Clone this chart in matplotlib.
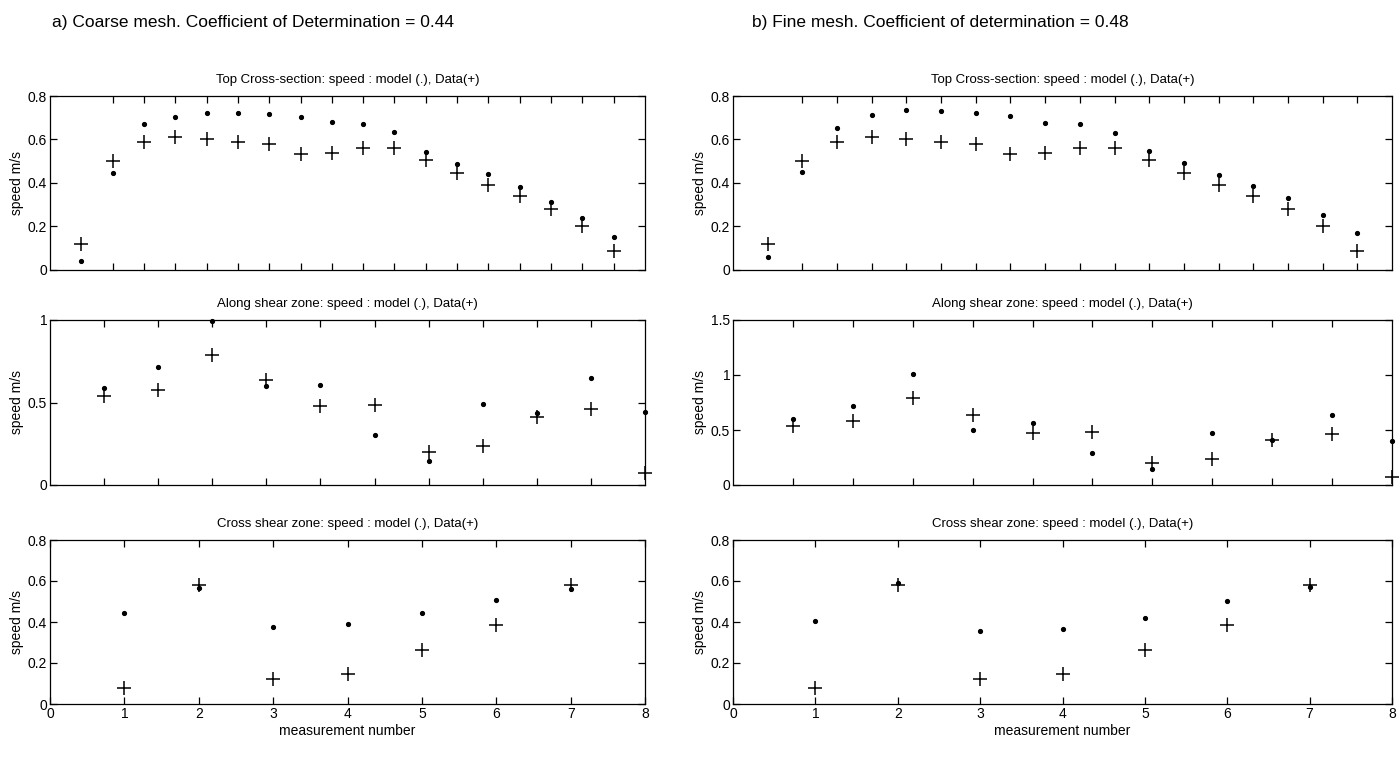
import matplotlib
matplotlib.use("Agg")
import matplotlib.pyplot as plt

# top cross-section, 18 measurement points
top_x = list(range(1, 19))
top_ticks = list(range(2, 19))
top_data = [0.12, 0.50, 0.59, 0.61, 0.60, 0.59, 0.58, 0.535, 0.54, 0.56, 0.56,
            0.505, 0.445, 0.39, 0.338, 0.282, 0.202, 0.088]
top_coarse = [0.042, 0.445, 0.673, 0.702, 0.722, 0.72, 0.716, 0.702, 0.679, 0.670,
              0.636, 0.543, 0.488, 0.44, 0.383, 0.313, 0.239, 0.153]
top_fine = [0.059, 0.452, 0.653, 0.713, 0.736, 0.729, 0.724, 0.707, 0.674, 0.673,
            0.631, 0.546, 0.493, 0.435, 0.384, 0.329, 0.252, 0.170]

# along shear zone, 11 points
along_x = list(range(1, 12))
along_ticks = list(range(1, 11))
along_data = [0.54, 0.578, 0.787, 0.634, 0.476, 0.484, 0.20, 0.239, 0.41, 0.462, 0.075]
along_coarse = [0.589, 0.715, 0.996, 0.603, 0.607, 0.302, 0.143, 0.488, 0.438, 0.647, 0.442]
along_fine = [0.597, 0.718, 1.008, 0.501, 0.568, 0.292, 0.142, 0.475, 0.408, 0.640, 0.403]

# cross shear zone, 7 points
cross_x = list(range(1, 8))
cross_ticks = list(range(0, 9))
cross_data = [0.077, 0.582, 0.12, 0.145, 0.262, 0.384, 0.582]
cross_coarse = [0.443, 0.566, 0.375, 0.391, 0.443, 0.509, 0.563]
cross_fine = [0.403, 0.588, 0.357, 0.368, 0.418, 0.502, 0.569]

plt.rcParams['font.family'] = ['Liberation Sans', 'DejaVu Sans']

fig = plt.figure(figsize=(13.99, 7.74), dpi=100)

W, H = 1399.0, 774.0
cols = [(50, 645), (733, 1392)]
rows = [(96, 270), (320, 485), (540, 704)]

titles = ["Top Cross-section: speed : model (.), Data(+)",
          "Along shear zone: speed : model (.), Data(+)",
          "Cross shear zone: speed : model (.), Data(+)"]


def make_ax(c, r):
    x0, x1 = cols[c]
    y0, y1 = rows[r]
    ax = fig.add_axes([x0 / W, 1 - y1 / H, (x1 - x0) / W, (y1 - y0) / H])
    ax.tick_params(direction='in', top=True, right=True, length=5, width=0.9,
                   labelsize=10, pad=2)
    for s in ax.spines.values():
        s.set_linewidth(0.9)
    ax.set_ylabel("speed m/s", fontsize=10, labelpad=3)
    ax.set_title(titles[r], fontsize=9.5, pad=9)
    return ax


def draw(ax, x, model, data):
    ax.plot(x, data, linestyle='none', marker='+', markersize=10, color='black',
            markeredgewidth=1.1, clip_on=False)
    ax.plot(x, model, linestyle='none', marker='.', markersize=5.5, color='black',
            clip_on=False)


models = [(top_coarse, along_coarse, cross_coarse), (top_fine, along_fine, cross_fine)]
along_ylims = [(0, 1), (0, 1.5)]
along_yt = [[0, 0.5, 1], [0, 0.5, 1, 1.5]]
along_ylab = [["0", "0.5", "1"], ["0", "0.5", "1", "1.5"]]

for c in range(2):
    tc, ac, cc = models[c]

    ax = make_ax(c, 0)
    draw(ax, top_x, tc, top_data)
    ax.set_xlim(0, 19)
    ax.set_xticks(top_ticks)
    ax.set_xticklabels([])
    ax.set_ylim(0, 0.8)
    ax.set_yticks([0, 0.2, 0.4, 0.6, 0.8])
    ax.set_yticklabels(["0", "0.2", "0.4", "0.6", "0.8"])

    ax = make_ax(c, 1)
    draw(ax, along_x, ac, along_data)
    ax.set_xlim(0, 11)
    ax.set_xticks(along_ticks)
    ax.set_xticklabels([])
    ax.set_ylim(*along_ylims[c])
    ax.set_yticks(along_yt[c])
    ax.set_yticklabels(along_ylab[c])

    ax = make_ax(c, 2)
    draw(ax, cross_x, cc, cross_data)
    ax.set_xlim(0, 8)
    ax.set_xticks(cross_ticks)
    ax.set_xticklabels([str(t) for t in cross_ticks])
    ax.set_ylim(0, 0.8)
    ax.set_yticks([0, 0.2, 0.4, 0.6, 0.8])
    ax.set_yticklabels(["0", "0.2", "0.4", "0.6", "0.8"])
    ax.set_xlabel("measurement number", fontsize=10, labelpad=2)

fig.text(52 / W, 1 - 22 / H, "a) Coarse mesh. Coefficient of Determination = 0.44",
         fontsize=12.5, va='center', ha='left')
fig.text(752 / W, 1 - 22 / H, "b) Fine mesh. Coefficient of determination = 0.48",
         fontsize=12.5, va='center', ha='left')

fig.savefig("out.png", dpi=100)
